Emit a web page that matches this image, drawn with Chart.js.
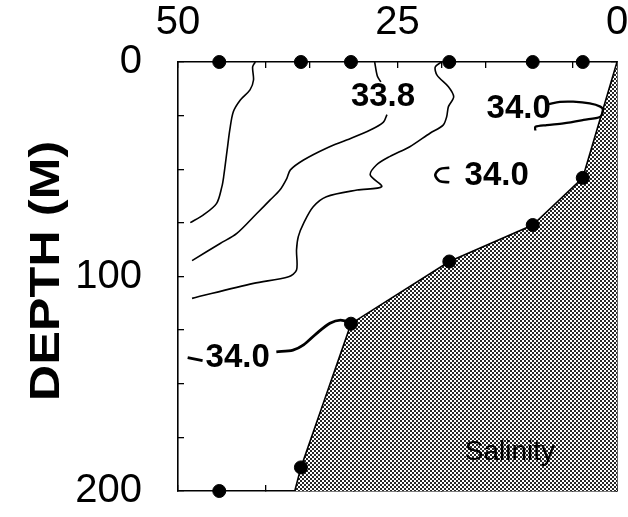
<!DOCTYPE html>
<html>
<head>
<meta charset="utf-8">
<script src="https://cdn.jsdelivr.net/npm/chart.js@4.4.0/dist/chart.umd.min.js"></script>
<style>
  html, body { margin: 0; padding: 0; background: #fff; }
  #wrap { width: 628px; height: 517px; }
</style>
</head>
<body>
<div id="wrap"><canvas id="c" width="628" height="517"></canvas></div>
<script>
// Axis tick labels
const distanceTicks = [50, 25, 0];
const depthTicks = [0, 100, 200];

// CTD stations: distance offshore (km) and bottom depth (m)
const stationKm = [45.3, 36.0, 30.3, 19.1, 9.6, 3.9];
const stationBottom = [200, 189, 122, 93, 76, 54];

// Sea floor profile
const shelfKm = [0, 3.9, 9.6, 19.1, 30.3, 36.0, 36.7];
const shelfDepth = [0, 54, 76, 93, 122, 189, 200];

// Salinity isolines
const isoAKm = [41.2, 41.5, 41.4, 41.8, 42.9, 43.7, 44.1, 44.4, 44.8, 45.0, 45.6, 47.1, 48.6];
const isoADepth = [0, 2.3, 8.4, 13.0, 17.7, 23.2, 31.7, 41.0, 53.5, 58.1, 65.9, 71.3, 74.9];

const iso338TopKm = [27.6, 27.3, 26.9];
const iso338TopDepth = [0, 6.5, 9.3];
const iso338Km = [26.2, 26.6, 28.1, 30.8, 33.1, 35.7, 37.2, 37.6, 38.4, 39.5, 41.0, 43.3, 45.2, 48.4];
const iso338Depth = [24.5, 28.0, 31.7, 36.4, 40.2, 45.7, 50.3, 54.2, 59.7, 64.3, 70.5, 79.9, 84.6, 92.6];

const isoCKm = [20.0, 20.7, 20.5, 19.2, 18.6, 19.2, 19.4, 19.8, 21.3, 23.6, 25.9, 27.4, 28.1, 26.8, 29.6, 33.1, 34.6, 35.7, 36.3, 36.5, 36.5, 37.4, 41.4, 48.4];
const isoCDepth = [0, 2.3, 6.1, 11.5, 16.2, 20.8, 25.5, 29.4, 33.2, 39.5, 44.1, 48.0, 52.7, 58.1, 59.7, 62.8, 67.5, 75.2, 81.4, 87.6, 97.0, 100.1, 103.2, 110.2];

const iso340NearKm = [7.8, 6.5, 5.0, 3.1, 1.9, 1.6, 1.9, 3.8, 6.1, 8.0, 9.3, 9.3];
const iso340NearDepth = [19.6, 18.6, 18.5, 19.3, 20.8, 22.4, 25.5, 27.0, 28.6, 29.4, 30.2, 31.9];

const iso340PocketKm = [19.1, 20.2, 20.7, 20.2, 19.1];
const iso340PocketDepth = [49.3, 49.9, 52.7, 55.5, 56.1];

const iso340DeepKm = [38.8, 36.9, 35.7, 34.2, 32.7, 31.5, 30.2];
const iso340DeepDepth = [135.1, 134.3, 131.9, 126.5, 121.8, 120.3, 121.7];
const iso340TickKm = [48.9, 47.2];
const iso340TickDepth = [137.8, 139.2];

// Isoline labels
const isoLabels = ['33.8', '34.0', '34.0', '34.0'];
const isoLabelKm = [26.65, 11.2, 13.7, 43.2];
const isoLabelDepth = [16.3, 21.9, 53.1, 138.0];
const panelLabel = 'Salinity';
const panelLabelKm = 12.2;
const panelLabelDepth = 181.8;

const FONT = "'Liberation Sans', Arial, Helvetica, sans-serif";

const zip = (xs, ys) => xs.map((x, i) => ({ x: x, y: ys[i] }));

const canvas = document.getElementById('c');
const ctx0 = canvas.getContext('2d');

// stippled fill for the sea floor
function makeStipple() {
  const t = document.createElement('canvas');
  t.width = 4; t.height = 4;
  const g = t.getContext('2d');
  g.fillStyle = '#ffffff';
  g.fillRect(0, 0, 4, 4);
  g.fillStyle = '#262626';
  g.fillRect(0, 0, 2, 2);
  g.fillRect(2, 2, 2, 2);
  return ctx0.createPattern(t, 'repeat');
}
const stipple = makeStipple();

const isoLine = (data, width) => ({
  type: 'line',
  data: data,
  borderColor: '#000',
  borderWidth: width,
  pointRadius: 0,
  tension: 0.3,
  fill: false
});

const topDots = stationKm.map(k => ({ x: k, y: 0 }));
const bottomDots = zip(stationKm, stationBottom);

const labelPlugin = {
  id: 'isoLabels',
  afterDatasetsDraw(chart) {
    const { ctx, scales } = chart;
    ctx.save();
    ctx.fillStyle = '#000';
    ctx.textAlign = 'center';
    ctx.textBaseline = 'middle';
    ctx.font = 'bold 33px ' + FONT;
    isoLabels.forEach((t, i) => {
      ctx.fillText(t, scales.x.getPixelForValue(isoLabelKm[i]), scales.y.getPixelForValue(isoLabelDepth[i]));
    });
    ctx.font = '28px ' + FONT;
    ctx.fillText(panelLabel, scales.x.getPixelForValue(panelLabelKm), scales.y.getPixelForValue(panelLabelDepth));
    ctx.restore();
  },
  afterDraw(chart) {
    const { ctx } = chart;
    ctx.save();
    ctx.fillStyle = '#000';
    ctx.font = 'bold 42px ' + FONT;
    ctx.textAlign = 'center';
    ctx.textBaseline = 'middle';
    ctx.translate(47, 271);
    ctx.rotate(-Math.PI / 2);
    ctx.scale(1.2, 1);
    ctx.fillText('DEPTH (M)', 0, 0);
    ctx.restore();
  }
};

const axisGrid = { drawOnChartArea: false, drawTicks: true, tickLength: -6, color: '#000', lineWidth: 1.3 };
const axisBorder = { display: true, color: '#000', width: 1.6 };

// pin the plot frame: fixed box sizes, no extra label overhang padding
const pinBox = (w, h) => s => {
  if (w !== null) s.width = w;
  if (h !== null) s.height = h;
  s.paddingLeft = 0; s.paddingRight = 0; s.paddingTop = 0; s.paddingBottom = 0;
};

new Chart(canvas, {
  type: 'scatter',
  data: {
    datasets: [
      { data: topDots, backgroundColor: '#000', borderColor: '#000', pointRadius: 6.5, showLine: false, clip: false },
      { data: bottomDots, backgroundColor: '#000', borderColor: '#000', pointRadius: 6.5, showLine: false, clip: false },
      isoLine(zip(isoAKm, isoADepth), 1.6),
      isoLine(zip(iso338TopKm, iso338TopDepth), 1.6),
      isoLine(zip(iso338Km, iso338Depth), 1.6),
      isoLine(zip(isoCKm, isoCDepth), 1.6),
      isoLine(zip(iso340NearKm, iso340NearDepth), 2.3),
      isoLine(zip(iso340PocketKm, iso340PocketDepth), 2.6),
      isoLine(zip(iso340DeepKm, iso340DeepDepth), 2.8),
      isoLine(zip(iso340TickKm, iso340TickDepth), 2.8),
      {
        type: 'line',
        data: zip(shelfKm, shelfDepth),
        borderColor: '#000',
        borderWidth: 1.6,
        pointRadius: 0,
        tension: 0,
        backgroundColor: stipple,
        fill: { value: 200 }
      }
    ]
  },
  options: {
    responsive: false,
    animation: false,
    devicePixelRatio: 1,
    layout: { padding: 0 },
    plugins: { legend: { display: false }, tooltip: { enabled: false }, title: { display: false } },
    scales: {
      x: {
        type: 'linear', position: 'top', reverse: true, min: 0, max: 50,
        ticks: {
          stepSize: 5, autoSkip: false, maxRotation: 0, color: '#000', padding: 21,
          font: { family: FONT, size: 40 },
          callback: v => distanceTicks.includes(v) ? String(v) : ''
        },
        grid: axisGrid, border: axisBorder,
        afterFit: pinBox(null, 62)
      },
      x2: {
        type: 'linear', position: 'bottom', reverse: true, min: 0, max: 50,
        ticks: { stepSize: 5, autoSkip: false, display: false },
        grid: axisGrid, border: axisBorder,
        afterFit: pinBox(null, 26)
      },
      y: {
        type: 'linear', position: 'left', reverse: true, min: 0, max: 200,
        ticks: {
          stepSize: 25, autoSkip: false, color: '#000', padding: 42,
          font: { family: FONT, size: 40 },
          callback: v => depthTicks.includes(v) ? String(v) : ''
        },
        grid: axisGrid, border: axisBorder,
        afterFit: pinBox(178, null)
      },
      y2: {
        type: 'linear', position: 'right', reverse: true, min: 0, max: 200,
        ticks: { stepSize: 25, autoSkip: false, display: false },
        grid: axisGrid, border: axisBorder,
        afterFit: pinBox(11, null)
      }
    }
  },
  plugins: [labelPlugin]
});
</script>
</body>
</html>
